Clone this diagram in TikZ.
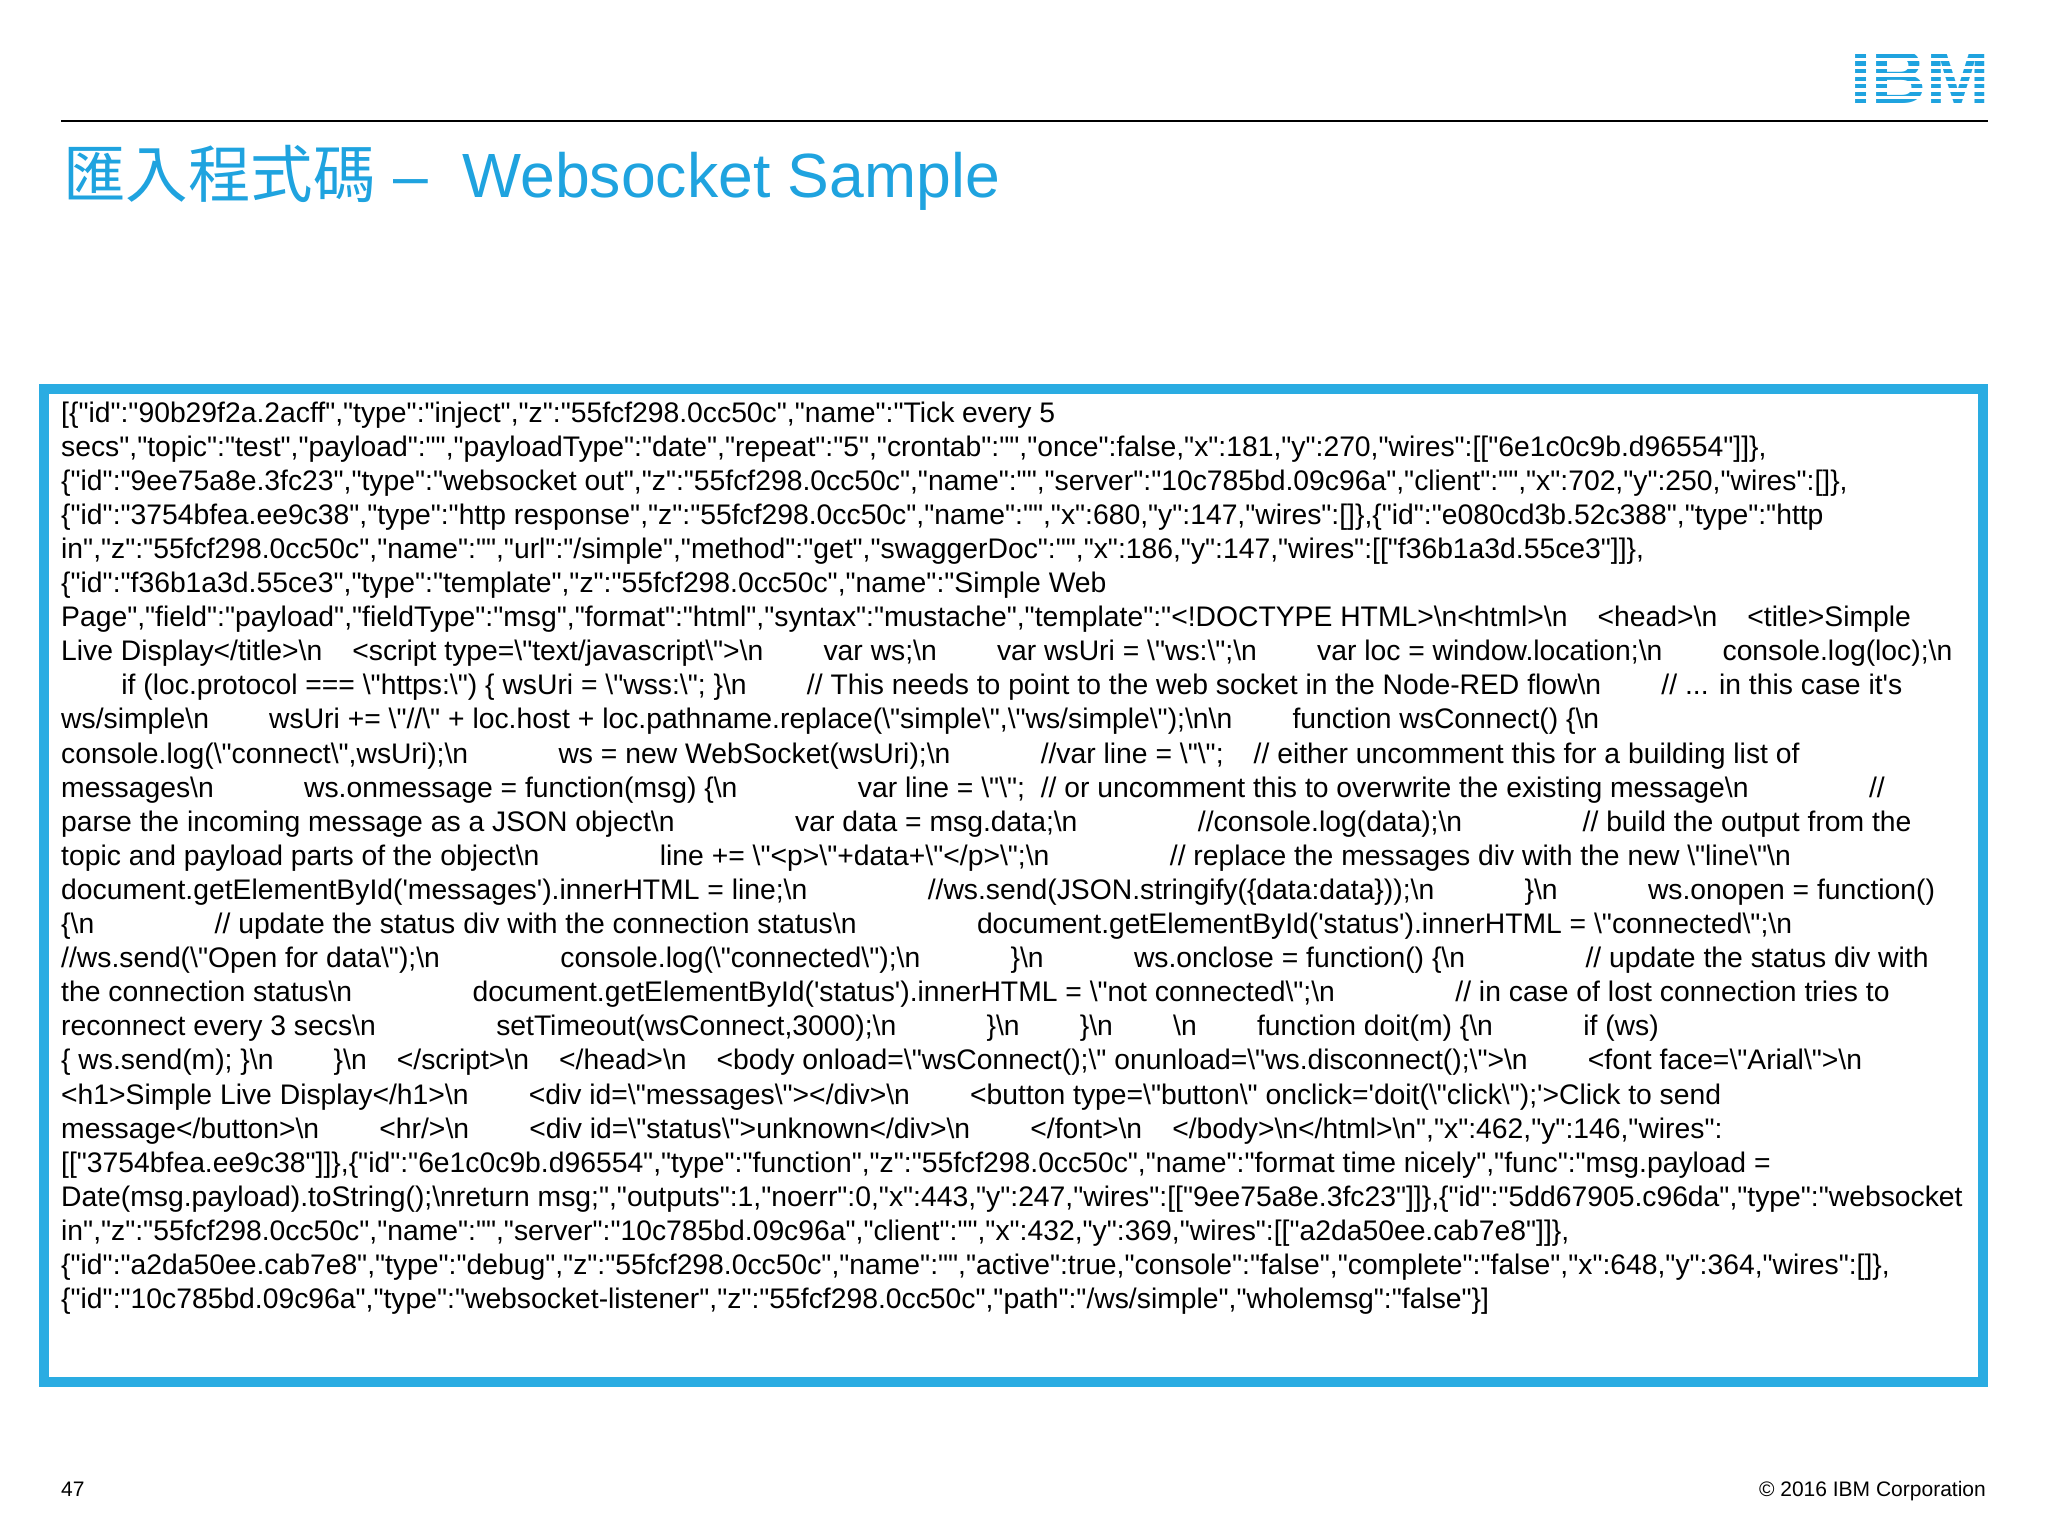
\documentclass[tikz,border=0pt]{standalone}
\usepackage{fontspec}
\setmainfont{Liberation Sans}[Ligatures=TeXOff]
\newfontfamily\cjk{Noto Sans CJK TC}
\definecolor{ibmblue}{HTML}{1FA3DF}
\definecolor{boxblue}{HTML}{2AACE2}
\newlength\spw
\newcommand\gap[1]{\hspace*{#1\spw}}
\newcommand\NL{\textbackslash n}
\newcommand\Q{\textbackslash"}
\newcommand\qs{'}
\tikzset{ln/.style={anchor=base west,inner sep=0pt,font=\fontsize{28.3}{30}\selectfont\setlength\spw{0.266em}}}
\begin{document}
\begin{tikzpicture}[x=1pt,y=1pt]
\useasboundingbox (0,0) rectangle (2048,-1536);
% logo
\node[anchor=east,inner sep=0pt,text=ibmblue,font=\fontsize{76}{76}\bfseries] (logo) at (1990,-77) {IBM};
\foreach \k in {0,...,7}{\fill[white] (1845,-50.5-\k*7.6) rectangle (1995,-53.8-\k*7.6);}
\draw[line width=1.5pt] (61,-121) -- (1988,-121);
\node[anchor=base west,inner sep=0pt,text=ibmblue,font=\fontsize{62.5}{62.5}\selectfont] (title) at (63,-197) {{\cjk 匯入程式碼} –\ \ Websocket Sample};
\draw[boxblue,line width=10pt] (44,-389) rectangle (1983,-1382);
\node[ln] (l1) at (61,-422.0) {[\{"id":"90b29f2a.2acff","type":"inject","z":"55fcf298.0cc50c","name":"Tick every 5};
\node[ln] (l2) at (61,-456.1) {secs","topic":"test","payload":"","payloadType":"date","repeat":"5","crontab":"","once":false,"x":181,"y":270,"wires":[["6e1c0c9b.d96554"]]\},};
\node[ln] (l3) at (61,-490.2) {\{"id":"9ee75a8e.3fc23","type":"websocket out","z":"55fcf298.0cc50c","name":"","server":"10c785bd.09c96a","client":"","x":702,"y":250,"wires":[]\},};
\node[ln] (l4) at (61,-524.3) {\{"id":"3754bfea.ee9c38","type":"http response","z":"55fcf298.0cc50c","name":"","x":680,"y":147,"wires":[]\},\{"id":"e080cd3b.52c388","type":"http};
\node[ln] (l5) at (61,-558.4) {in","z":"55fcf298.0cc50c","name":"","url":"/simple","method":"get","swaggerDoc":"","x":186,"y":147,"wires":[["f36b1a3d.55ce3"]]\},};
\node[ln] (l6) at (61,-592.5) {\{"id":"f36b1a3d.55ce3","type":"template","z":"55fcf298.0cc50c","name":"Simple Web};
\node[ln] (l7) at (61,-626.6) {Page","field":"payload","fieldType":"msg","format":"html","syntax":"mustache","template":"<!DOCTYPE HTML>\NL<html>\NL\gap4<head>\NL\gap4<title>Simple};
\node[ln] (l8) at (61,-660.7) {Live Display</title>\NL\gap4<script type=\Q text/javascript\Q>\NL\gap8var ws;\NL\gap8var wsUri = \Q ws:\Q;\NL\gap8var loc = window.location;\NL\gap8console.log(loc);\NL};
\node[ln] (l9) at (61,-694.8) {\gap8if (loc.protocol === \Q https:\Q) \{ wsUri = \Q wss:\Q; \}\NL\gap8// This needs to point to the web socket in the Node-RED flow\NL\gap8// ... in this case it\qs s};
\node[ln] (l10) at (61,-728.9) {ws/simple\NL\gap8wsUri += \Q//\Q{} + loc.host + loc.pathname.replace(\Q simple\Q,\Q ws/simple\Q);\NL\NL\gap8function wsConnect() \{\NL};
\node[ln] (l11) at (61,-763.0) {console.log(\Q connect\Q,wsUri);\NL\gap{12}ws = new WebSocket(wsUri);\NL\gap{12}//var line = \Q\Q;\gap4// either uncomment this for a building list of};
\node[ln] (l12) at (61,-797.1) {messages\NL\gap{12}ws.onmessage = function(msg) \{\NL\gap{16}var line = \Q\Q;\ \ // or uncomment this to overwrite the existing message\NL\gap{16}//};
\node[ln] (l13) at (61,-831.2) {parse the incoming message as a JSON object\NL\gap{16}var data = msg.data;\NL\gap{16}//console.log(data);\NL\gap{16}// build the output from the};
\node[ln] (l14) at (61,-865.3) {topic and payload parts of the object\NL\gap{16}line += \Q<p>\Q+data+\Q</p>\Q;\NL\gap{16}// replace the messages div with the new \Q line\Q\NL};
\node[ln] (l15) at (61,-899.4) {document.getElementById(\qs messages\qs).innerHTML = line;\NL\gap{16}//ws.send(JSON.stringify(\{data:data\}));\NL\gap{12}\}\NL\gap{12}ws.onopen = function()};
\node[ln] (l16) at (61,-933.5) {\{\NL\gap{16}// update the status div with the connection status\NL\gap{16}document.getElementById(\qs status\qs).innerHTML = \Q connected\Q;\NL};
\node[ln] (l17) at (61,-967.6) {//ws.send(\Q Open for data\Q);\NL\gap{16}console.log(\Q connected\Q);\NL\gap{12}\}\NL\gap{12}ws.onclose = function() \{\NL\gap{16}// update the status div with};
\node[ln] (l18) at (61,-1001.7) {the connection status\NL\gap{16}document.getElementById(\qs status\qs).innerHTML = \Q not connected\Q;\NL\gap{16}// in case of lost connection tries to};
\node[ln] (l19) at (61,-1035.8) {reconnect every 3 secs\NL\gap{16}setTimeout(wsConnect,3000);\NL\gap{12}\}\NL\gap8\}\NL\gap8\NL\gap8function doit(m) \{\NL\gap{12}if (ws)};
\node[ln] (l20) at (61,-1069.9) {\{ ws.send(m); \}\NL\gap8\}\NL\gap4</script>\NL\gap4</head>\NL\gap4<body onload=\Q wsConnect();\Q{} onunload=\Q ws.disconnect();\Q>\NL\gap8<font face=\Q Arial\Q>\NL};
\node[ln] (l21) at (61,-1104.0) {<h1>Simple Live Display</h1>\NL\gap8<div id=\Q messages\Q></div>\NL\gap8<button type=\Q button\Q{} onclick=\qs doit(\Q click\Q);\qs>Click to send};
\node[ln] (l22) at (61,-1138.1) {message</button>\NL\gap8<hr/>\NL\gap8<div id=\Q status\Q>unknown</div>\NL\gap8</font>\NL\gap4</body>\NL</html>\NL","x":462,"y":146,"wires":};
\node[ln] (l23) at (61,-1172.2) {[["3754bfea.ee9c38"]]\},\{"id":"6e1c0c9b.d96554","type":"function","z":"55fcf298.0cc50c","name":"format time nicely","func":"msg.payload =};
\node[ln] (l24) at (61,-1206.3) {Date(msg.payload).toString();\NL return msg;","outputs":1,"noerr":0,"x":443,"y":247,"wires":[["9ee75a8e.3fc23"]]\},\{"id":"5dd67905.c96da","type":"websocket};
\node[ln] (l25) at (61,-1240.4) {in","z":"55fcf298.0cc50c","name":"","server":"10c785bd.09c96a","client":"","x":432,"y":369,"wires":[["a2da50ee.cab7e8"]]\},};
\node[ln] (l26) at (61,-1274.5) {\{"id":"a2da50ee.cab7e8","type":"debug","z":"55fcf298.0cc50c","name":"","active":true,"console":"false","complete":"false","x":648,"y":364,"wires":[]\},};
\node[ln] (l27) at (61,-1308.6) {\{"id":"10c785bd.09c96a","type":"websocket-listener","z":"55fcf298.0cc50c","path":"/ws/simple","wholemsg":"false"\}]};
\node[anchor=base west,inner sep=0pt,font=\fontsize{21}{21}\selectfont] (pg) at (61,-1496) {47};
\node[anchor=base east,inner sep=0pt,font=\fontsize{21}{21}\selectfont] (cp) at (1986,-1496) {© 2016 IBM Corporation};
\end{tikzpicture}
\end{document}
